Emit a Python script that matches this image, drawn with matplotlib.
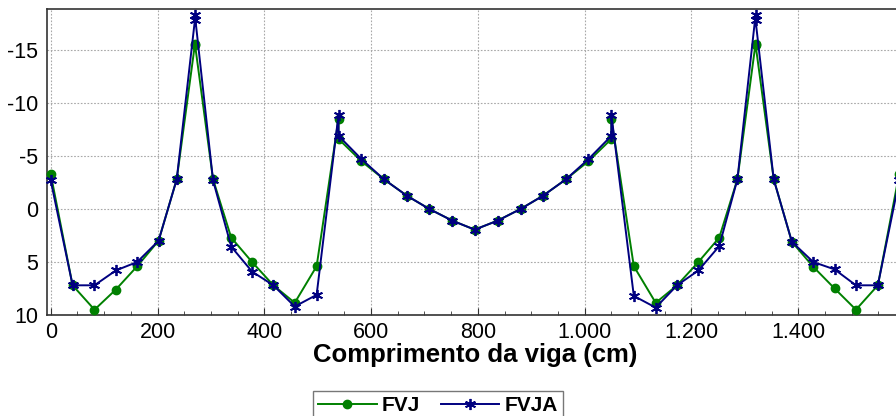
import matplotlib
matplotlib.use("Agg")
import matplotlib.pyplot as plt
from matplotlib.ticker import FixedLocator, MultipleLocator, FuncFormatter

plt.rcParams['font.family'] = ['Liberation Sans', 'DejaVu Sans']
plt.rcParams['axes.unicode_minus'] = False

# Positions along the beam (cm); supports appear twice (left / right value)
x_cm = [0, 41, 82, 122, 162, 202, 236, 270, 270, 304, 338, 377, 417, 457, 498,
        539, 539, 582, 624, 667, 709, 752, 794, 837, 880, 922, 965, 1007,
        1050, 1050, 1092, 1133, 1173, 1213, 1252, 1286, 1320, 1320, 1354,
        1388, 1428, 1468, 1508, 1549, 1589]

fvj = [-3.3, 7.2, 9.5, 7.6, 5.4, 3.0, -2.8, -15.5, -15.6, -2.8, 2.7, 5.0, 7.2,
       8.85, 5.4, -8.5, -6.6, -4.5, -2.8, -1.25, 0.0, 1.1, 1.95, 1.1, 0.0,
       -1.25, -2.8, -4.5, -6.6, -8.5, 5.4, 8.85, 7.2, 5.0, 2.7, -2.8, -15.6,
       -15.5, -2.8, 3.1, 5.45, 7.5, 9.5, 7.2, -3.3]

fvja = [-2.7, 7.2, 7.2, 5.8, 5.0, 3.0, -2.8, -17.8, -18.3, -2.7, 3.55, 5.9, 7.2,
        9.2, 8.1, -8.9, -6.9, -4.7, -2.8, -1.25, 0.0, 1.1, 1.95, 1.1, 0.0,
        -1.25, -2.8, -4.7, -6.9, -8.9, 8.2, 9.3, 7.2, 5.8, 3.5, -2.8, -18.3,
        -17.8, -2.8, 3.1, 5.0, 5.7, 7.2, 7.2, -2.7]

x_ticks = [0, 200, 400, 600, 800, 1000, 1200, 1400]
y_ticks = [-15, -10, -5, 0, 5, 10]

W, H = 896, 416
fig = plt.figure(figsize=(W / 100, H / 100), dpi=100)
ax = fig.add_axes([46.7 / W, 1 - 315 / H, (896 - 46.7) / W, (315 - 9.3) / H])

ax.plot(x_cm, fvj, color='#008000', lw=1.4, marker='o', ms=6,
        label='FVJ', clip_on=False, zorder=3)
ax.plot(x_cm, fvja, color='#000080', lw=1.4, marker=(6, 2, 0), ms=8,
        mew=1.3, label='FVJA', clip_on=False, zorder=4)

ax.set_xlim(-7.5, 1583)
ax.set_ylim(10, -18.83)

ax.xaxis.set_major_locator(FixedLocator(x_ticks))
ax.xaxis.set_minor_locator(MultipleLocator(50))
ax.yaxis.set_major_locator(FixedLocator(y_ticks))
ax.xaxis.set_major_formatter(
    FuncFormatter(lambda v, p: f"{int(round(v)):,}".replace(",", ".")))
ax.yaxis.set_major_formatter(FuncFormatter(lambda v, p: f"{int(round(v))}"))

ax.grid(True, which='major', color='#a8a8a8', ls=(0, (1.5, 1.5)), lw=0.8)
ax.set_axisbelow(True)

ax.tick_params(axis='x', which='major', direction='in', length=5,
               labelsize=15.5, pad=5, color='#333333')
ax.tick_params(axis='x', which='minor', direction='in', length=3,
               color='#333333')
ax.tick_params(axis='y', which='major', direction='in', length=0,
               labelsize=15.5, pad=6)

for side in ('top', 'left', 'bottom'):
    ax.spines[side].set_color('#333333')
    ax.spines[side].set_linewidth(1.2)
ax.spines['right'].set_visible(False)

ax.set_xlabel('Comprimento da viga (cm)', fontsize=18.5, fontweight='bold',
              labelpad=0)
ax.xaxis.label.set_x(0.5045)

leg = fig.legend(loc='upper center', bbox_to_anchor=(438 / W, 1 - 391 / H),
                 ncol=2, frameon=True, fancybox=False, edgecolor='#555555',
                 prop={'weight': 'bold', 'size': 15}, handlelength=2.8,
                 columnspacing=1.0, handletextpad=0.25, borderpad=0.25,
                 borderaxespad=0)
leg.get_frame().set_linewidth(1.0)

fig.savefig('out.png', dpi=100)
